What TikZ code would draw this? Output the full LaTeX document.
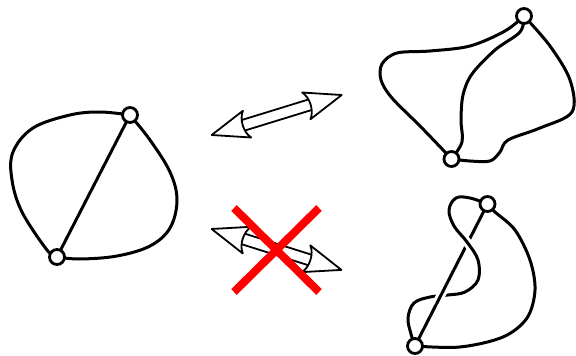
\documentclass[tikz,border=0pt]{standalone}
\begin{document}
\begin{tikzpicture}[x=1pt,y=-1pt,
  edge/.style={line width=3pt, line cap=round, line join=round},
  vert/.style={circle, draw, line width=2.8pt, fill=white, minimum size=15pt, inner sep=0pt},
  halo/.style={preaction={draw=white, line width=9pt}},
  arrowline/.style={line width=1.8pt, line join=round},
  redx/.style={draw=red, line width=8pt}]
\useasboundingbox (0,0) rectangle (576,356);

% ---------- left graph ----------
\coordinate (la) at (130,115);
\coordinate (lb) at (57,257);
\draw[edge] plot[smooth, tension=0.6] coordinates {(la) (100,112) (70,115) (33,128) (13,152) (12,180) (22,212) (47,250) (lb)};
\draw[edge] plot[smooth, tension=0.6] coordinates {(la) (150,140) (170,172) (177,200) (170,228) (150,246) (117,256) (80,259) (lb)};
\draw[edge] (la) -- (lb);
\node[vert] (l1) at (la) {};
\node[vert] (l2) at (lb) {};

% ---------- arrows ----------
\def\L{136}\def\h{37}\def\w{14}\def\s{5.5}
\begin{scope}[shift={(211.7,135)}, rotate=17.1]
  \draw[arrowline] (\h-6,\s) -- (\L-\h+6,\s) (\h-6,-\s) -- (\L-\h+6,-\s);
  \draw[arrowline, fill=white] (0,0) -- (\h,\w) .. controls (\h-6,\w/2) and (\h-6,-\w/2) .. (\h,-\w) -- cycle;
  \draw[arrowline, fill=white] (\L,0) -- (\L-\h,\w) .. controls (\L-\h+6,\w/2) and (\L-\h+6,-\w/2) .. (\L-\h,-\w) -- cycle;
\end{scope}
\begin{scope}[shift={(211.7,229)}, rotate=-17.5]
  \draw[arrowline] (\h-6,\s) -- (\L-\h+6,\s) (\h-6,-\s) -- (\L-\h+6,-\s);
  \draw[arrowline, fill=white] (0,0) -- (\h,\w) .. controls (\h-6,\w/2) and (\h-6,-\w/2) .. (\h,-\w) -- cycle;
  \draw[arrowline, fill=white] (\L,0) -- (\L-\h,\w) .. controls (\L-\h+6,\w/2) and (\L-\h+6,-\w/2) .. (\L-\h,-\w) -- cycle;
\end{scope}
\draw[redx] (234,208) -- (319,292);
\draw[redx] (319,208) -- (234,292);

% ---------- top-right graph ----------
\coordinate (ta) at (524,16);
\coordinate (tb) at (451.5,159);
\draw[edge] plot[smooth, tension=0.55] coordinates {(ta) (505,31) (470,46) (430,51) (397,53) (382,64) (381,80) (392,98) (420,126) (445,152) (tb)};
\draw[edge] plot[smooth, tension=0.55] coordinates {(ta) (520,32) (495,50) (472,74) (463,95) (461,120) (462,142) (tb)};
\draw[edge] plot[smooth, tension=0.55] coordinates {(ta) (550,46) (570,80) (572,112) (540,128) (508,140) (500,152) (490,161) (470,161) (tb)};
\node[vert] (t1) at (ta) {};
\node[vert] (t2) at (tb) {};

% ---------- bottom-right graph ----------
\coordinate (ba) at (487.5,204);
\coordinate (bb) at (415,346);
\draw[edge] (ba) -- (bb);
\draw[edge] plot[smooth, tension=0.55] coordinates {(ba) (495,212) (515,230) (530,260) (535,290) (527,318) (503,337) (460,347) (bb)};
\draw[edge, halo] plot[smooth, tension=0.6] coordinates {(ba) (470,198) (456,198) (449,210) (454,226) (467,242) (478,260) (478,280) (465,292) (448,295) (430,297) (414,303) (408,318) (411,334) (bb)};
\begin{scope}
  \clip (441,294) circle (11);
  \draw[edge, halo] (ba) -- (bb);
\end{scope}
\node[vert] (b1) at (ba) {};
\node[vert] (b2) at (bb) {};
\end{tikzpicture}
\end{document}
